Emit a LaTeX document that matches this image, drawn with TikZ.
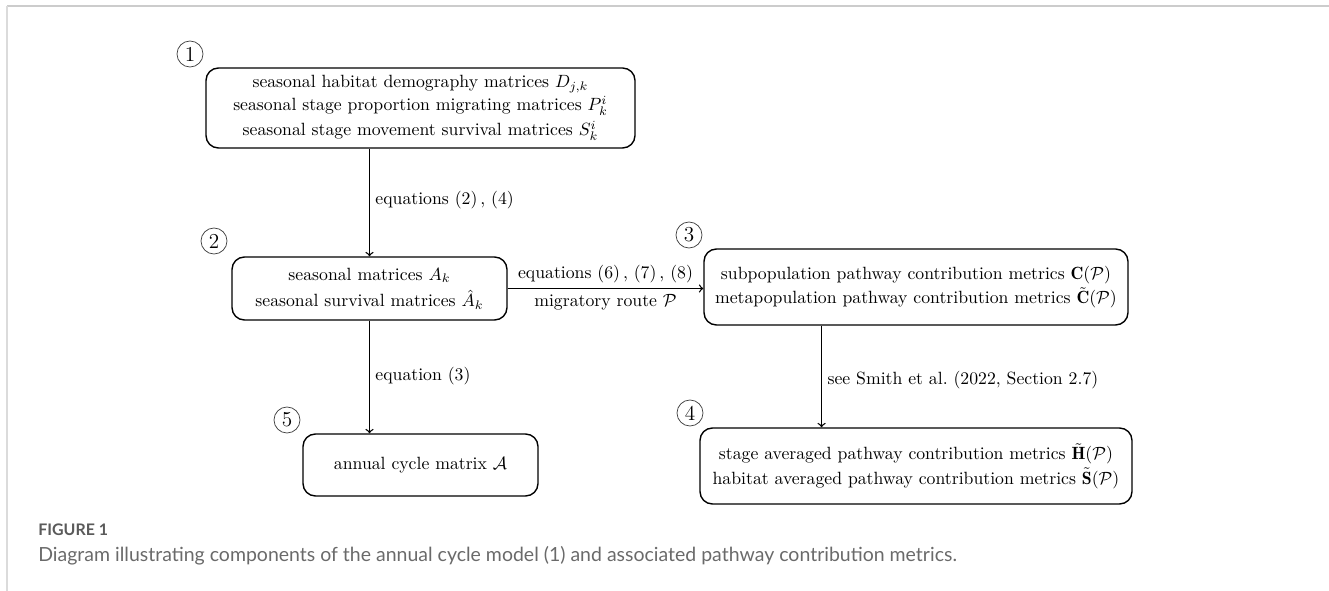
\documentclass[tikz,border=0pt]{standalone}
\usepackage{fontspec}
\newfontfamily\capfont{Lato}
\usetikzlibrary{calc}
\definecolor{framegray}{HTML}{CCCCCC}
\definecolor{capgray}{HTML}{6A6A6A}
\definecolor{figgray}{HTML}{5A5A5A}
\tikzset{
  box/.style={draw, line width=0.8pt, rounded corners=7pt, align=center, inner sep=0pt},
  num/.style={draw=black!75, line width=0.4pt, circle, inner sep=0pt, minimum size=26*0.5645pt, font=\large},
  conn/.style={->, line width=0.75pt},
  lab/.style={inner sep=3pt}
}
\begin{document}
\begin{tikzpicture}[x=0.5645pt, y=-0.5645pt]
\useasboundingbox (0,0) rectangle (1329,591);
% frame
\draw[framegray, line width=1.1pt] (7,6) -- (1329,6);
\draw[framegray!70, line width=0.8pt] (7,6) -- (7,591);
% boxes
\node[box, minimum width=429*0.5645pt, minimum height=80*0.5645pt] (b1) at (420.5,108)
  {seasonal habitat demography matrices $D_{j,k}$\\[1pt]
   seasonal stage proportion migrating matrices $P_k^i$\\[2pt]
   seasonal stage movement survival matrices $S_k^i$};
\node[box, minimum width=275*0.5645pt, minimum height=63*0.5645pt] (b2) at (369.5,288.5)
  {seasonal matrices $A_k$\\[3pt] seasonal survival matrices $\hat{A}_k$};
\node[box, minimum width=424*0.5645pt, minimum height=76*0.5645pt] (b3) at (916,287)
  {subpopulation pathway contribution metrics $\mathbf{C}(\mathcal{P})$\\[2pt]
   metapopulation pathway contribution metrics $\tilde{\mathbf{C}}(\mathcal{P})$};
\node[box, minimum width=432*0.5645pt, minimum height=76*0.5645pt] (b4) at (916,466)
  {stage averaged pathway contribution metrics $\tilde{\mathbf{H}}(\mathcal{P})$\\[2pt]
   habitat averaged pathway contribution metrics $\tilde{\mathbf{S}}(\mathcal{P})$};
\node[box, minimum width=235*0.5645pt, minimum height=62*0.5645pt] (b5) at (420.5,465)
  {annual cycle matrix $\mathcal{A}$};
% numbers
\node[num] (n1) at (190,54) {1};
\node[num] (n2) at (214,241) {2};
\node[num] (n3) at (689,235) {3};
\node[num] (n4) at (690,413) {4};
\node[num] (n5) at (287,420) {5};
% connectors
\draw[conn] (b2.north |- b1.south) -- node[lab, right, pos=0.48] {equations (2)\,, (4)} (b2.north);
\draw[conn] (b2.east) -- node[lab, above] {equations (6)\,, (7)\,, (8)}
  node[lab, below] {migratory route $\mathcal{P}$} (b2.east -| b3.west);
\coordinate (c3) at ($(b3.south west)!0.278!(b3.south east)$);
\draw[conn] (c3) -- node[lab, right, pos=0.54] {see Smith et al.\ (2022, Section 2.7)} (c3 |- b4.north);
\draw[conn] (b2.south) -- node[lab, right, pos=0.49] {equation (3)} (b2.south |- b5.north);
% caption
\node[anchor=west, inner sep=0pt, text=figgray, font=\capfont\bfseries\fontsize{9}{11}\selectfont] (fig) at (38,530) {FIGURE 1};
\node[anchor=west, inner sep=0pt, text=capgray, font=\capfont\fontsize{11}{13}\selectfont] (cap) at (38,556)
  {Diagram illustrating components of the annual cycle model (1) and associated pathway contribution metrics.};
\end{tikzpicture}
\end{document}
